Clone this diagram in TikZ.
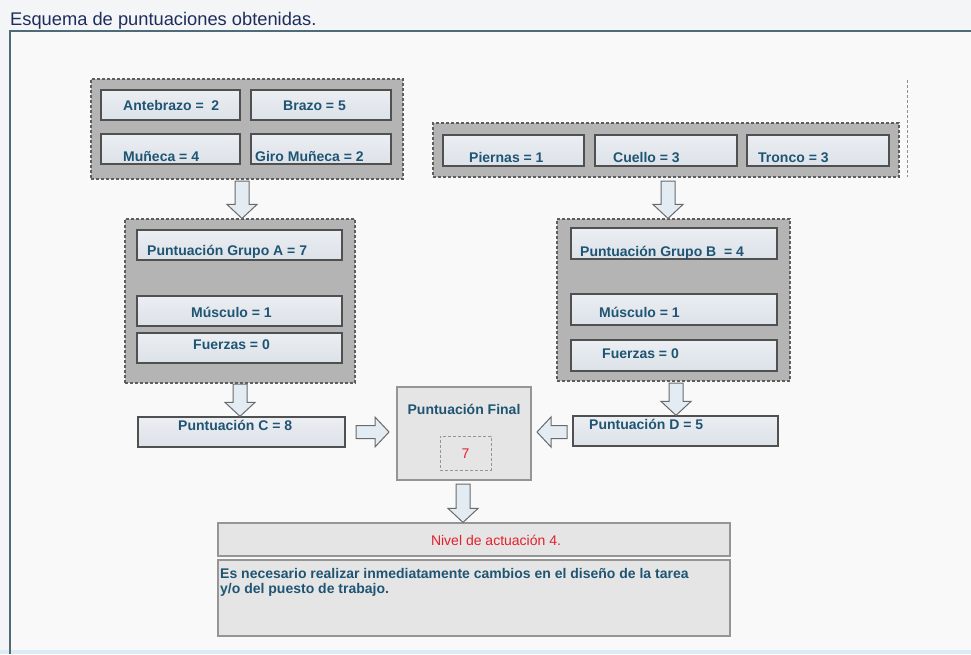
\documentclass[tikz,border=0pt]{standalone}
\usepackage{fontspec}
\setmainfont{Liberation Sans}
\usetikzlibrary{calc}

\definecolor{pagebg}{HTML}{F4F5F6}
\definecolor{canvasbg}{HTML}{F9F9F9}
\definecolor{stripbg}{HTML}{DCECF6}
\definecolor{navy}{HTML}{1E2E5C}
\definecolor{lbltext}{HTML}{1F5573}
\definecolor{framec}{HTML}{4F6B78}
\definecolor{grpfill}{HTML}{B4B4B4}
\definecolor{grpline}{HTML}{5E5E5E}
\definecolor{celltop}{HTML}{EBEEF2}
\definecolor{cellbottom}{HTML}{DCE2E9}
\definecolor{cellline}{HTML}{505050}
\definecolor{alertred}{HTML}{E3202C}
\definecolor{arrowfill}{HTML}{E4ECF3}
\definecolor{arrowline}{HTML}{6A6A6A}
\definecolor{panelfill}{HTML}{E5E5E5}
\definecolor{panelline}{HTML}{959595}

\tikzset{
  group/.style={rectangle, inner sep=0pt, draw=grpline, fill=grpfill,
    dash pattern=on 3pt off 2pt, line width=1.1pt},
  cell/.style={rectangle, inner sep=0pt, draw=cellline, top color=celltop,
    bottom color=cellbottom, line width=1.3pt},
  panel/.style={rectangle, inner sep=0pt, draw=panelline, fill=panelfill, line width=1.2pt},
  lbl/.style={anchor=base west, inner sep=0pt, text=lbltext,
    font=\fontsize{14}{16}\selectfont\bfseries},
  barrow/.style={draw=arrowline, fill=arrowfill, line width=1pt, line join=miter},
}

% hollow block arrows between two points (shaft 14, head 30 wide)
\newcommand{\blockdown}[2]{%
  \path[barrow] let \p1=(#1), \p2=(#2) in
    (\x1-7pt,\y1) -- (\x1+7pt,\y1) -- (\x1+7pt,\y2+14pt) -- (\x1+15pt,\y2+14pt)
    -- (\x1,\y2) -- (\x1-15pt,\y2+14pt) -- (\x1-7pt,\y2+14pt) -- cycle;}
\newcommand{\blockright}[2]{%
  \path[barrow] let \p1=(#1), \p2=(#2) in
    (\x1,\y1+6.5pt) -- (\x2-14pt,\y1+6.5pt) -- (\x2-14pt,\y1+15pt) -- (\x2,\y1)
    -- (\x2-14pt,\y1-15pt) -- (\x2-14pt,\y1-6.5pt) -- (\x1,\y1-6.5pt) -- cycle;}
\newcommand{\blockleft}[2]{%
  \path[barrow] let \p1=(#1), \p2=(#2) in
    (\x1,\y1+6.5pt) -- (\x2+14pt,\y1+6.5pt) -- (\x2+14pt,\y1+15pt) -- (\x2,\y1)
    -- (\x2+14pt,\y1-15pt) -- (\x2+14pt,\y1-6.5pt) -- (\x1,\y1-6.5pt) -- cycle;}

\begin{document}
\begin{tikzpicture}[x=1pt, y=-1pt]
\useasboundingbox (0,0) rectangle (971,654);

% page and panel frame
\fill[pagebg] (0,0) rectangle (971,654);
\fill[canvasbg] (10,31) rectangle (971,650);
\fill[stripbg] (0,650) rectangle (971,654);
\draw[framec, line width=1.6pt] (971,31) -- (10,31) -- (10,654);

\node[anchor=base west, inner sep=0pt, text=navy, font=\fontsize{18.3}{21}\selectfont]
  (title) at (10,25) {Esquema de puntuaciones obtenidas.};

% upper left group: arm and wrist
\node[group, minimum width=312pt, minimum height=100pt] (gL) at (247,129) {};
\node[cell, minimum width=139pt, minimum height=30pt] (ante)   at (170.5,105) {};
\node[cell, minimum width=140pt, minimum height=30pt] (brazo)  at (321,105) {};
\node[cell, minimum width=139pt, minimum height=30pt] (muneca) at (170.5,149) {};
\node[cell, minimum width=140pt, minimum height=30pt] (giro)   at (321,149) {};
\node[lbl] (tAnte)   at (123,110) {Antebrazo =\ \ 2};
\node[lbl] (tBrazo)  at (283,110) {Brazo = 5};
\node[lbl] (tMuneca) at (123,161) {Muñeca = 4};
\node[lbl] (tGiro)   at (255,161) {Giro Muñeca = 2};

% upper right group: legs, neck, trunk
\node[group, minimum width=466pt, minimum height=54pt] (gR) at (666,150) {};
\node[cell, minimum width=141pt, minimum height=31pt] (piernas) at (513.5,150.5) {};
\node[cell, minimum width=142pt, minimum height=31pt] (cuello)  at (666,150.5) {};
\node[cell, minimum width=142pt, minimum height=31pt] (tronco)  at (818,150.5) {};
\node[lbl] (tPiernas) at (469,162) {Piernas = 1};
\node[lbl] (tCuello)  at (613,162) {Cuello = 3};
\node[lbl] (tTronco)  at (758,162) {Tronco = 3};
\draw[grpline!70, dash pattern=on 3pt off 2pt, line width=0.8pt] (907,80) -- (907,177);

% group A
\node[group, minimum width=230pt, minimum height=164pt] (gA) at (240,301) {};
\node[cell, minimum width=205pt, minimum height=30pt] (grpA)  at (239.5,245) {};
\node[cell, minimum width=205pt, minimum height=30pt] (muscA) at (239.5,311) {};
\node[cell, minimum width=205pt, minimum height=30pt] (fuerA) at (239.5,348) {};
\node[lbl] (tGrpA)  at (147,255) {Puntuación Grupo A = 7};
\node[lbl] (tMuscA) at (191,317) {Músculo = 1};
\node[lbl] (tFuerA) at (193,349) {Fuerzas = 0};
\node[cell, minimum width=207pt, minimum height=30pt] (puntC) at (241.5,432) {};
\node[lbl] (tPuntC) at (178,430) {Puntuación C = 8};

% group B
\node[group, minimum width=233pt, minimum height=162pt] (gB) at (673.5,300) {};
\node[cell, minimum width=206pt, minimum height=31pt] (grpB)  at (674,243.5) {};
\node[cell, minimum width=206pt, minimum height=31pt] (muscB) at (674,309.5) {};
\node[cell, minimum width=206pt, minimum height=31pt] (fuerB) at (674,355.5) {};
\node[lbl] (tGrpB)  at (580,256) {Puntuación Grupo B\ \ = 4};
\node[lbl] (tMuscB) at (599,317) {Músculo = 1};
\node[lbl] (tFuerB) at (602,358) {Fuerzas = 0};
\node[cell, minimum width=205pt, minimum height=30pt] (puntD) at (675.5,431) {};
\node[lbl] (tPuntD) at (589,429) {Puntuación D = 5};

% final score
\node[panel, minimum width=134pt, minimum height=93pt] (final) at (464,433.5) {};
\node[lbl, anchor=base] (tFinal) at (464,414) {Puntuación Final};
\node[rectangle, inner sep=0pt, draw=panelline, dash pattern=on 3pt off 2pt, line width=0.9pt,
  minimum width=51pt, minimum height=34pt] (score) at (465.5,453) {};
\node[anchor=base, inner sep=0pt, text=alertred, font=\fontsize{14}{16}\selectfont]
  (tScore) at (score.center |- 0,458) {7};

% action level
\node[panel, minimum width=512pt, minimum height=33pt] (nivel) at (474,539.5) {};
\node[anchor=base, inner sep=0pt, text=alertred, font=\fontsize{14}{16}\selectfont]
  (tNivel) at (496,545) {Nivel de actuación 4.};
\node[panel, minimum width=512pt, minimum height=76pt] (expl) at (474,598) {};
\node[anchor=north west, inner sep=0pt, text=lbltext, align=left,
  font=\fontsize{14}{15.5}\selectfont\bfseries] (tExpl) at (220,568)
  {Es necesario realizar inmediatamente cambios en el diseño de la tarea\\y/o del puesto de trabajo.};

% flow arrows
\coordinate (a1s) at (242,181);
\coordinate (a2s) at (668,181);
\coordinate (a3s) at (240,384);
\coordinate (a4s) at (676,383);
\coordinate (a5s) at (356,432);
\coordinate (a5e) at (389,432);
\coordinate (a6s) at (567,432);
\coordinate (a6e) at (537,432);
\coordinate (a7s) at (463,484);
\blockdown{a1s}{a1s |- gA.north}
\blockdown{a2s}{a2s |- gB.north}
\blockdown{a3s}{a3s |- puntC.north}
\blockdown{a4s}{a4s |- puntD.north}
\blockright{a5s}{a5e}
\blockleft{a6s}{a6e}
\blockdown{a7s}{a7s |- nivel.north}
\end{tikzpicture}
\end{document}
